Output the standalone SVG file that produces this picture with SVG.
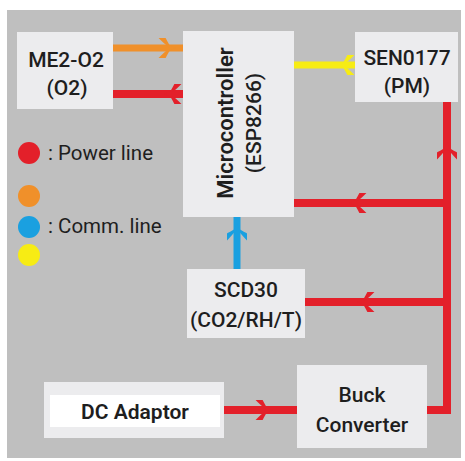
<svg xmlns="http://www.w3.org/2000/svg" xmlns:xlink="http://www.w3.org/1999/xlink" width="465" height="461" viewBox="0 0 465 461">
<style>
.box{fill:#ececee;}
.t{font-family:Roboto,"Liberation Sans",sans-serif;font-size:21px;fill:#1e1e1e;text-anchor:middle;font-weight:500;}
.lg{font-family:Roboto,"Liberation Sans",sans-serif;font-size:20.5px;fill:#1e1e1e;}
.red{stroke:#e3202a;stroke-width:8;fill:none;}
.org{stroke:#f0902a;stroke-width:7;fill:none;}
.blu{stroke:#1aa0e0;stroke-width:7;fill:none;}
.yel{stroke:#f7ec14;stroke-width:7;fill:none;}
</style>
<defs>
<path id="chev" d="M-7,-9 C-3,-5 0,-2 5,0 C0,2 -3,5 -7,9 L-3,9 C-1,5 1,2 2,0 C1,-2 -1,-5 -3,-9 Z"/>
</defs>
<rect x="0" y="0" width="465" height="461" fill="#ffffff"/>
<rect x="7" y="10" width="454" height="448" fill="#bfbfbf"/>

<g id="connectors">
<line class="org" x1="113" y1="48" x2="183" y2="48"/>
<use href="#chev" transform="translate(168,48)" fill="#f0902a" stroke="#f0902a" stroke-width="2"/>
<line class="red" x1="113" y1="94" x2="183" y2="94"/>
<use href="#chev" transform="translate(172,94) rotate(180)" fill="#e3202a" stroke="#e3202a" stroke-width="2"/>
<line class="yel" x1="294" y1="65" x2="355" y2="65"/>
<use href="#chev" transform="translate(345,65) rotate(180)" fill="#f7ec14" stroke="#f7ec14" stroke-width="2"/>
<line class="blu" x1="237" y1="217" x2="237" y2="269"/>
<use href="#chev" transform="translate(237,231) rotate(-90)" fill="#1aa0e0" stroke="#1aa0e0" stroke-width="2"/>
<polyline class="red" points="447,102 447,410 427,410"/>
<line class="red" x1="294" y1="203" x2="447" y2="203"/>
<use href="#chev" transform="translate(357,203) rotate(180)" fill="#e3202a" stroke="#e3202a" stroke-width="2"/>
<line class="red" x1="305" y1="302" x2="447" y2="302"/>
<use href="#chev" transform="translate(365,302) rotate(180)" fill="#e3202a" stroke="#e3202a" stroke-width="2"/>
<use href="#chev" transform="translate(447,150) rotate(-90)" fill="#e3202a" stroke="#e3202a" stroke-width="2"/>
<line class="red" x1="224" y1="410" x2="297" y2="410"/>
<use href="#chev" transform="translate(265,410)" fill="#e3202a" stroke="#e3202a" stroke-width="2"/>
</g>

<g id="me2">
<rect class="box" x="17" y="32" width="96" height="77"/>
<text class="t" x="66" y="67">ME2-O2</text>
<text class="t" x="67" y="95">(O2)</text>
</g>

<g id="micro">
<rect class="box" x="183" y="31" width="111" height="186"/>
<text class="t" transform="translate(233,123) rotate(-90)" style="font-weight:600;font-size:22px">Microcontroller</text>
<text class="t" transform="translate(261,123) rotate(-90)">(ESP8266)</text>
</g>

<g id="sen">
<rect class="box" x="355" y="32" width="103" height="70"/>
<text class="t" x="407" y="65">SEN0177</text>
<text class="t" x="407" y="93">(PM)</text>
</g>

<g id="scd">
<rect class="box" x="187" y="269" width="118" height="69"/>
<text class="t" x="246" y="297">SCD30</text>
<text class="t" x="246" y="327">(CO2/RH/T)</text>
</g>

<g id="dc">
<rect x="44" y="382" width="180" height="56" fill="#ececee"/>
<rect x="50" y="395" width="170" height="32" fill="#ffffff"/>
<text class="t" x="135" y="419" style="font-weight:600">DC Adaptor</text>
</g>

<g id="buck">
<rect class="box" x="297" y="365" width="130" height="83"/>
<text class="t" x="362" y="402">Buck</text>
<text class="t" x="362" y="432">Converter</text>
</g>

<g id="legend">
<circle cx="29" cy="153" r="11" fill="#e3202a"/>
<circle cx="29" cy="196" r="11" fill="#f0902a"/>
<circle cx="29" cy="227" r="11" fill="#1aa0e0"/>
<circle cx="29" cy="255" r="11" fill="#f7ec14"/>
<text class="lg" x="48" y="160">: Power line</text>
<text class="lg" x="48" y="233">: Comm. line</text>
</g>
</svg>
